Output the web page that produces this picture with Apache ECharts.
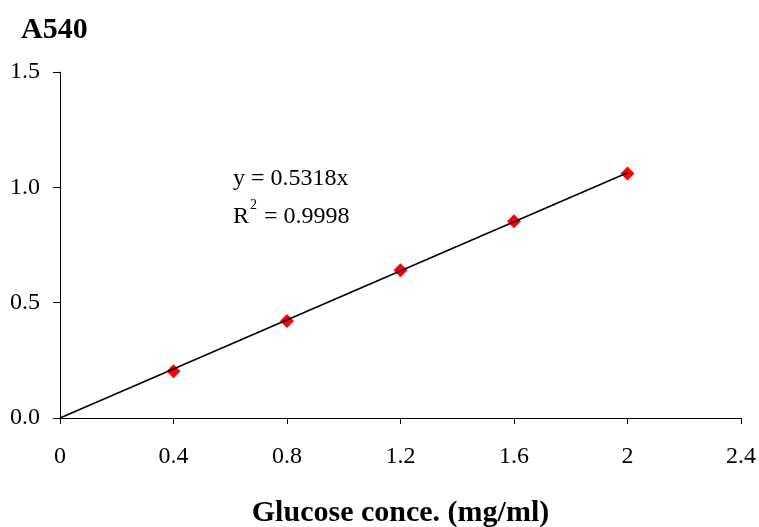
<!DOCTYPE html>
<html>
<head>
<meta charset="utf-8">
<script src="https://cdn.jsdelivr.net/npm/echarts@6/dist/echarts.min.js"></script>
<style>
  html, body { margin: 0; padding: 0; background: #fff; }
  #chart { width: 759px; height: 527px; }
</style>
</head>
<body>
<div id="chart"></div>
<script>
// 数据
const glucose = [0.4, 0.8, 1.2, 1.6, 2.0];
const absorbance = [0.203, 0.42, 0.64, 0.853, 1.06];
const slope = 0.5318;
const r2 = '0.9998';
const fitRange = [0, 2.0];

const chart = echarts.init(document.getElementById('chart'));
const font = '"Liberation Serif", "Times New Roman", serif';

const points = glucose.map(function (x, i) { return [x, absorbance[i]]; });
const fitLine = fitRange.map(function (x) { return [x, slope * x]; });

const option = {
    animation: false,
    backgroundColor: '#fff',
    title: {
        text: 'A540',
        left: 16,
        top: 10,
        textStyle: { fontFamily: font, fontSize: 30, fontWeight: 'bold', color: '#000' }
    },
    grid: { left: 60, right: 18, top: 72, bottom: 109, outerBoundsMode: 'none', containLabel: false },
    xAxis: {
        type: 'value',
        min: 0, max: 2.4, interval: 0.4,
        name: 'Glucose conce. (mg/ml)',
        nameLocation: 'middle',
        nameGap: 80,
        nameTextStyle: { fontFamily: font, fontSize: 30, fontWeight: 'bold', color: '#000' },
        axisLine: { lineStyle: { color: '#000', width: 1 } },
        axisTick: { show: true, length: 6, lineStyle: { color: '#000' } },
        axisLabel: { fontFamily: font, fontSize: 24, color: '#000', margin: 27,
            formatter: function (v) { return String(+v.toFixed(1)); } },
        splitLine: { show: false }
    },
    yAxis: {
        type: 'value',
        min: 0, max: 1.5, interval: 0.5,
        axisLine: { show: true, lineStyle: { color: '#000', width: 1 } },
        axisTick: { show: true, length: 7, lineStyle: { color: '#000' } },
        axisLabel: { fontFamily: font, fontSize: 24, color: '#000', margin: 20,
            formatter: function (v) { return v.toFixed(1); } },
        splitLine: { show: false }
    },
    graphic: [{
        type: 'text',
        left: 233,
        top: 167,
        style: {
            text: '{t|y = ' + slope + 'x}\n{t|R}{s|2}{t| = ' + r2 + '}',
            rich: {
                t: { fontFamily: font, fontSize: 24, color: '#000', lineHeight: 38 },
                s: { fontFamily: font, fontSize: 14, color: '#000', verticalAlign: 'top', padding: [0, 1, 12, 1], lineHeight: 38 }
            }
        }
    }],
    series: [{
        type: 'scatter',
        data: points,
        symbol: 'diamond',
        symbolSize: 14,
        itemStyle: { color: '#ff0000', opacity: 1 },
        z: 2
    }, {
        type: 'line',
        data: fitLine,
        showSymbol: false,
        symbol: 'none',
        lineStyle: { color: '#000', width: 1.6 },
        z: 3
    }]
};

chart.setOption(option);
</script>
</body>
</html>
